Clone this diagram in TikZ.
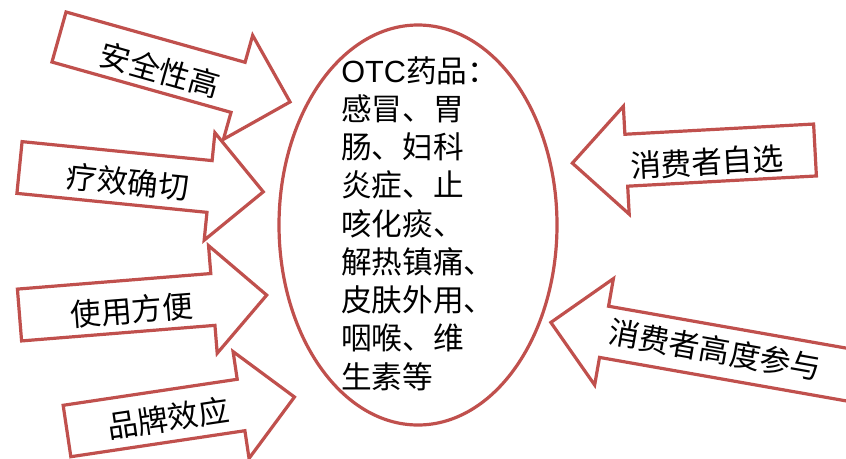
\documentclass[tikz,border=0pt]{standalone}
\usepackage{fontspec}
\setmainfont{Noto Sans CJK SC}
\newfontfamily\latinf{Liberation Sans}
\usetikzlibrary{shapes.geometric}
\definecolor{arrred}{HTML}{C0504D}
\newcommand\blockarrow[3]{%
  \begin{scope}[shift={(#1)}, rotate=#2]
    \draw[arrowshape] (0,-26) -- ({#3-54},-26) -- ({#3-54},-54) -- (#3,0) -- ({#3-54},54) -- ({#3-54},26) -- (0,26) -- cycle;
  \end{scope}}
\begin{document}
\begin{tikzpicture}[x=0.75pt,y=-0.75pt,
  arrowshape/.style={draw=arrred, line width=2.4pt, fill=white, line join=miter},
  lbl/.style={font=\fontsize{23}{28.7}\selectfont, inner sep=0pt},
  otcshape/.style={ellipse, draw=arrred, line width=2.4pt, inner sep=0pt, minimum width=208.5pt, minimum height=300pt}]
\useasboundingbox (0,0) rectangle (846,458);
\clip (0,0) rectangle (846,458);
% left arrows
\blockarrow{59,37}{-15.7}{240}
\blockarrow{19.5,167.5}{-5.7}{245}
\blockarrow{19.5,315}{4.6}{248}
\blockarrow{67,431}{8.5}{230}
% right arrows
\blockarrow{815,150}{183.1}{243}
\blockarrow{866,378}{170}{320}
% labels
\node (t1) [lbl, rotate=-15.7] at (160,70) {安全性高};
\node (t2) [lbl, rotate=-5.7] at (128,182) {疗效确切};
\node (t3) [lbl, rotate=4.6] at (132,310) {使用方便};
\node (t4) [lbl, rotate=8.5] at (168,418) {品牌效应};
\node (t5) [lbl, rotate=3.1] at (707,162) {消费者自选};
\node (t6) [lbl, rotate=-10] at (715,350) {消费者高度参与};
% centre
\node (otc) [otcshape] at (418,225) {};
\node (otctext) [lbl, align=left, anchor=north west] at (341,56) {{\latinf OTC}药品：\\感冒、胃\\肠、妇科\\炎症、止\\咳化痰、\\解热镇痛、\\皮肤外用、\\咽喉、维\\生素等};
\end{tikzpicture}
\end{document}
